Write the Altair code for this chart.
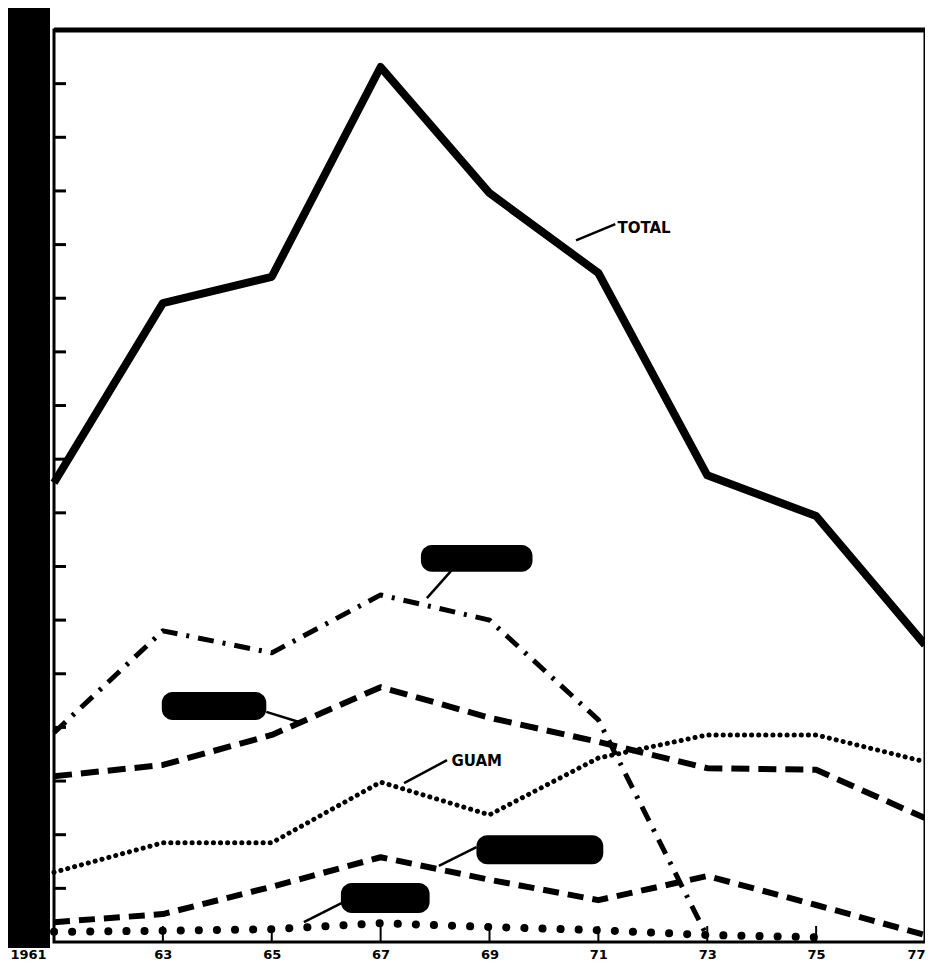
import altair as alt
import pandas as pd

# ---------------- data ----------------
years = [1961, 1963, 1965, 1967, 1969, 1971, 1973, 1975, 1977]
tick_labels = ["1961", "63", "65", "67", "69", "71", "73", "75", "77"]

total = [8.56, 11.91, 12.40, 16.31, 13.96, 12.47, 8.70, 7.94, 5.54]
dash_dot = [3.90, 5.80, 5.39, 6.47, 6.00, 4.14, 0.10]          # 1961-1973
dashed_upper = [3.09, 3.30, 3.86, 4.75, 4.18, 3.73, 3.24, 3.21, 2.31]
guam = [1.30, 1.85, 1.85, 2.98, 2.37, 3.43, 3.86, 3.86, 3.36]
dashed_lower = [0.37, 0.52, 1.03, 1.58, 1.16, 0.78, 1.23, 0.69, 0.13]
dotted_lower = [0.19, 0.21, 0.24, 0.35, 0.28, 0.22, 0.13, 0.09]  # 1961-1975

y_ticks = list(range(1, 17))

# annotation labels (data coordinates)
label_text = ["TOTAL", "GUAM"]
label_year = [1971.35, 1968.30]
label_value = [13.30, 3.38]

# leader lines (data coordinates)
lead_x1 = [1970.59, 1967.85, 1964.90, 1967.43, 1968.07, 1965.59]
lead_y1 = [13.08, 6.41, 4.29, 2.96, 1.42, 0.37]
lead_x2 = [1971.31, 1968.34, 1965.50, 1968.22, 1968.76, 1966.29]
lead_y2 = [13.38, 6.97, 4.10, 3.39, 1.77, 0.73]

# redacted (blacked-out) label boxes (data coordinates)
box_x1 = [1967.74, 1962.98, 1968.76, 1966.27]
box_x2 = [1969.79, 1964.90, 1971.09, 1967.90]
box_y1 = [6.90, 4.14, 1.45, 0.54]
box_y2 = [7.40, 4.66, 1.99, 1.10]

# ---------------- chart ----------------
W, H = 871, 912
FONT = "DejaVu Sans"

xs = alt.Scale(domain=[1961, 1977], nice=False, zero=False)
ys = alt.Scale(domain=[0, 17], nice=False, zero=True)

label_expr = ""
for yv, lb in zip(years, tick_labels):
    label_expr += f"datum.value == {yv} ? '{lb}' : "
label_expr += "''"

x_axis = alt.Axis(
    values=years, labelExpr=label_expr, title=None, domain=False, ticks=False,
    grid=False, labelFont=FONT, labelFontSize=13, labelFontWeight="bold",
    labelColor="black", labelPadding=6, labelFlush=False,
    labelOffset={"expr": "datum.value == 1961 ? -26 : (datum.value == 1977 ? -9 : 0)"},
)


def X(field="year"):
    return alt.X(f"{field}:Q", scale=xs, axis=x_axis)


def Y(field="value"):
    return alt.Y(f"{field}:Q", scale=ys, axis=None)


def line_layer(vals, **mk):
    df = pd.DataFrame({"year": years[:len(vals)], "value": vals})
    return alt.Chart(df).mark_line(color="black", strokeJoin="round", **mk).encode(
        x=X(), y=Y()
    )


l_total = line_layer(total, strokeWidth=8)
l_dd = line_layer(dash_dot, strokeWidth=5, strokeDash=[16, 9, 3, 9])
l_du = line_layer(dashed_upper, strokeWidth=6, strokeDash=[18, 9])
l_guam = line_layer(guam, strokeWidth=5, strokeDash=[0.1, 7], strokeCap="round")
l_dl = line_layer(dashed_lower, strokeWidth=6, strokeDash=[16, 9])
l_dot = line_layer(dotted_lower, strokeWidth=8, strokeDash=[0.1, 18], strokeCap="round")

# inward y ticks
yt = alt.Chart(pd.DataFrame({"v": y_ticks})).mark_rule(color="black", strokeWidth=3).encode(
    y=Y("v"), x=alt.value(0), x2=alt.value(12)
)
# inward x ticks
xt = alt.Chart(pd.DataFrame({"year": years[1:-1]})).mark_rule(color="black", strokeWidth=2).encode(
    x=X(), y=alt.value(H), y2=alt.value(H - 16)
)

# thick top border
top = alt.Chart(pd.DataFrame({"a": [0]})).mark_rule(color="black", strokeWidth=5).encode(
    y=alt.value(0), x=alt.value(0), x2=alt.value(W)
)

# redacted y axis labels bar
bar = alt.Chart(pd.DataFrame({"a": [0]})).mark_rect(color="black").encode(
    x=alt.value(-47), x2=alt.value(-4), y=alt.value(-25), y2=alt.value(H + 6)
)

leaders = alt.Chart(pd.DataFrame({"x1": lead_x1, "y1": lead_y1, "x2": lead_x2, "y2": lead_y2})).mark_rule(
    color="black", strokeWidth=2.5
).encode(x=X("x1"), y=Y("y1"), x2="x2:Q", y2="y2:Q")

boxes = alt.Chart(pd.DataFrame({"x1": box_x1, "x2": box_x2, "y1": box_y1, "y2": box_y2})).mark_rect(
    color="black", cornerRadius=11
).encode(x=X("x1"), x2="x2:Q", y=Y("y1"), y2="y2:Q")

labels = alt.Chart(pd.DataFrame({"year": label_year, "value": label_value, "t": label_text})).mark_text(
    align="left", baseline="middle", font=FONT, fontWeight="bold", fontSize=15, color="black"
).encode(x=X(), y=Y(), text="t:N")

chart = alt.layer(
    bar, yt, xt, top, l_total, l_dd, l_du, l_guam, l_dl, l_dot, leaders, boxes, labels
).properties(
    width=W, height=H,
    autosize=alt.AutoSizeParams(type="none"),
    padding={"left": 46, "top": 22, "right": 0, "bottom": 25},
    background="white",
).configure_view(stroke="black", strokeWidth=3)

chart.save("out.html", embed_options={"renderer": "svg", "actions": False})
